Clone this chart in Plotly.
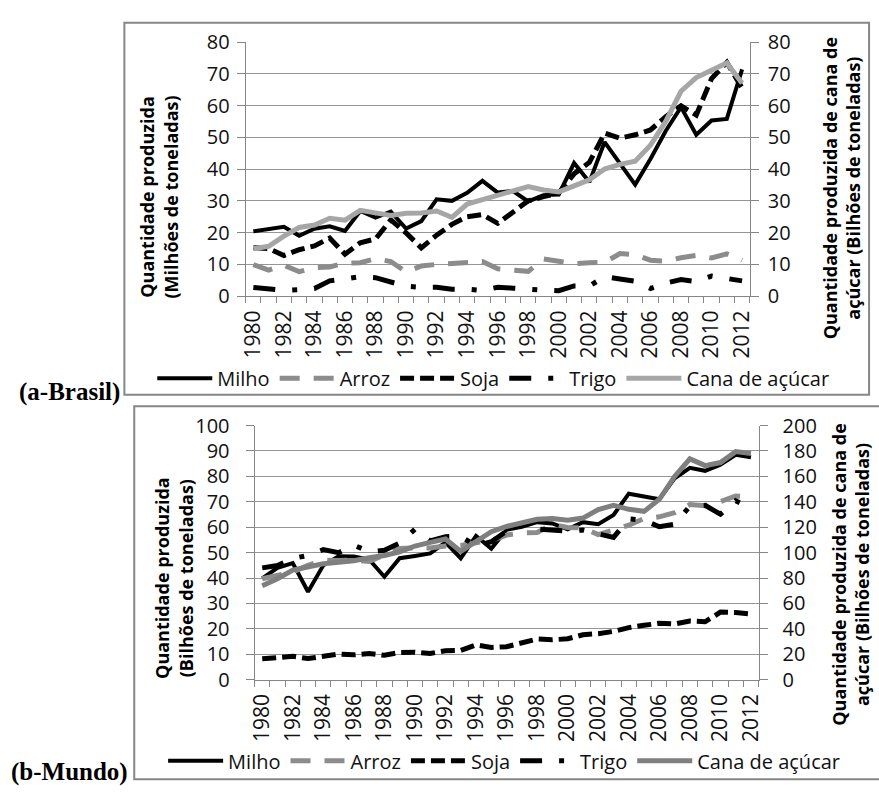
import plotly.graph_objects as go

W, H = 879, 798

anos = [str(a) for a in range(1980, 2013)]
rotulos_anos = [a if int(a) % 2 == 0 else "" for a in anos]

# (a) Brasil - milhões de toneladas (cana: eixo secundário)
milho_br = [20.4, 21.1, 21.8, 19.0, 21.2, 22.0, 20.5, 26.8, 24.7, 26.6, 21.3, 23.6, 30.5, 30.0, 32.5, 36.3, 32.6,
            33.1, 29.8, 31.8, 32.0, 41.9, 35.9, 48.5, 42.0, 35.1, 43.2, 52.0, 59.5, 50.8, 55.3, 55.8, 71.4]
arroz_br = [9.9, 8.2, 9.7, 7.7, 9.0, 9.2, 10.4, 10.5, 11.8, 10.9, 7.6, 9.5, 10.0, 10.2, 10.4, 10.9, 8.6,
            8.3, 7.8, 11.7, 11.1, 10.2, 10.5, 10.6, 13.4, 13.0, 11.3, 11.0, 12.1, 12.8, 12.0, 13.3, 11.3]
soja_br = [15.2, 15.0, 12.8, 14.6, 15.8, 18.3, 13.2, 16.8, 18.0, 24.0, 19.9, 15.2, 19.2, 22.6, 25.0, 25.7, 22.9,
           26.4, 30.0, 31.3, 32.5, 38.5, 42.1, 51.3, 49.7, 50.8, 52.3, 56.5, 59.9, 57.0, 68.5, 73.6, 65.5]
trigo_br = [2.7, 2.1, 1.8, 2.0, 2.4, 4.8, 5.6, 6.1, 5.8, 4.6, 3.1, 2.8, 2.8, 2.2, 2.2, 1.8, 2.8,
            2.5, 2.1, 1.9, 1.7, 3.2, 3.2, 6.1, 5.4, 4.7, 2.4, 4.1, 5.2, 4.6, 6.3, 5.4, 4.8]
cana_br = [14.9, 15.7, 18.9, 21.6, 22.4, 24.5, 23.9, 27.0, 26.2, 25.4, 26.1, 26.2, 26.8, 24.8, 29.0, 30.3, 31.6,
           33.0, 34.5, 33.4, 32.8, 34.7, 36.6, 40.0, 41.5, 42.5, 47.5, 55.0, 64.5, 68.8, 71.2, 73.4, 67.0]

# (b) Mundo - bilhões de toneladas (cana: eixo secundário)
milho_mu = [39.9, 44.0, 45.9, 34.6, 45.0, 48.6, 48.5, 47.3, 40.5, 47.8, 48.7, 49.7, 54.0, 47.8, 56.6, 51.6, 59.0,
            60.2, 62.0, 61.5, 59.2, 62.0, 61.2, 64.8, 73.2, 72.0, 71.0, 79.2, 83.4, 82.2, 84.6, 88.5, 87.5]
arroz_mu = [39.7, 41.0, 42.4, 45.0, 47.0, 46.9, 47.1, 46.5, 48.8, 51.6, 51.9, 51.8, 52.6, 52.8, 53.9, 54.8, 56.9,
            57.8, 57.9, 61.1, 59.9, 59.8, 57.1, 58.7, 60.8, 63.4, 64.1, 65.7, 68.9, 68.5, 70.1, 72.3, 71.9]
soja_mu = [8.2, 8.8, 9.2, 8.3, 9.3, 10.1, 9.8, 10.3, 9.6, 10.7, 10.8, 10.3, 11.4, 11.5, 13.7, 12.7, 13.0,
           14.4, 16.0, 15.7, 16.1, 17.7, 18.1, 19.0, 20.5, 21.4, 22.2, 21.9, 23.1, 22.8, 26.6, 26.4, 25.8]
trigo_mu = [44.0, 44.9, 47.7, 48.9, 51.2, 50.0, 52.9, 50.4, 50.9, 53.8, 59.2, 54.6, 56.3, 56.4, 52.7, 54.3, 58.5,
            61.3, 59.3, 58.7, 58.5, 58.9, 57.4, 56.0, 63.3, 62.7, 60.2, 61.2, 68.3, 68.6, 65.1, 70.4, 67.5]
cana_mu = [74.0, 79.5, 86.3, 88.9, 91.3, 92.5, 93.6, 96.0, 97.7, 100.7, 105.2, 108.1, 110.7, 101.0, 108.9, 116.5, 120.6,
           123.7, 126.3, 126.9, 125.6, 127.2, 133.9, 137.3, 134.1, 132.5, 142.0, 160.0, 173.8, 168.5, 170.9, 179.5, 178.0]

nomes = ["Milho", "Arroz", "Soja", "Trigo", "Cana de açúcar"]

FONT = "Open Sans"
PRETO = "#000000"
CINZA = "#8c8c8c"
CINZA_CLARO = "#a6a6a6"
CINZA_CANA_MU = "#7f7f7f"
GRADE = "#969696"
EIXO = "#868686"

estilos = {
    "Milho": dict(color=PRETO, width=4, dash="solid"),
    "Arroz": dict(color=CINZA, width=5, dash="20px,14px"),
    "Soja": dict(color=PRETO, width=5, dash="14px,6px"),
    "Trigo": dict(color=PRETO, width=5, dash="22px,17px,5px,17px"),
}


def px_x(v):
    return v / W


def px_y(v):
    return 1 - v / H


fig = go.Figure()

series_br = [milho_br, arroz_br, soja_br, trigo_br]
series_mu = [milho_mu, arroz_mu, soja_mu, trigo_mu]

for nome, vals in zip(nomes[:4], series_br):
    fig.add_trace(go.Scatter(x=anos, y=vals, name=nome, mode="lines", line=estilos[nome],
                             xaxis="x", yaxis="y", legend="legend"))
fig.add_trace(go.Scatter(x=anos, y=cana_br, name=nomes[4], mode="lines",
                         line=dict(color=CINZA_CLARO, width=5), xaxis="x", yaxis="y2", legend="legend"))

for nome, vals in zip(nomes[:4], series_mu):
    fig.add_trace(go.Scatter(x=anos, y=vals, name=nome, mode="lines", line=estilos[nome],
                             xaxis="x2", yaxis="y3", legend="legend2"))
fig.add_trace(go.Scatter(x=anos, y=cana_mu, name=nomes[4], mode="lines",
                         line=dict(color=CINZA_CANA_MU, width=5), xaxis="x2", yaxis="y4", legend="legend2"))

tick_font = dict(family=FONT, size=20, color="#111111")
xtick_font = dict(family=FONT, size=21, color="#111111")


def eixo_x(dom, anchor):
    return dict(domain=dom, anchor=anchor, type="category", range=[-0.5, 32.5],
                tickmode="array", tickvals=anos, ticktext=rotulos_anos, tickson="boundaries",
                ticks="outside", ticklen=6, tickcolor=EIXO, tickangle=-90,
                showline=True, linecolor=EIXO, linewidth=1, showgrid=False,
                tickfont=xtick_font, fixedrange=True, ticklabelstandoff=5)


def eixo_y(dom, anchor, rng, dtick, standoff):
    return dict(domain=dom, anchor=anchor, range=rng, dtick=dtick, showgrid=True, gridcolor=GRADE,
                gridwidth=1, zeroline=False, ticks="outside", ticklen=8, tickcolor=EIXO,
                showline=True, linecolor=EIXO, linewidth=1, tickfont=tick_font,
                ticklabelstandoff=standoff)


def eixo_y_dir(over, anchor, rng, dtick, standoff):
    return dict(overlaying=over, anchor=anchor, side="right", range=rng, dtick=dtick, showgrid=False,
                zeroline=False, ticks="outside", ticklen=8, tickcolor=EIXO,
                showline=True, linecolor=EIXO, linewidth=1, tickfont=tick_font,
                ticklabelstandoff=standoff)


dom_x_br = [px_x(242), px_x(753)]
dom_y_br = [px_y(292), px_y(29)]
dom_x_mu = [px_x(251), px_x(762)]
dom_y_mu = [px_y(689), px_y(426)]

leg_font = dict(family=FONT, size=20, color="#111111")

fig.update_layout(
    width=W, height=H, margin=dict(l=0, r=0, t=0, b=0),
    paper_bgcolor="white", plot_bgcolor="white",
    xaxis=eixo_x(dom_x_br, "y"),
    yaxis=eixo_y(dom_y_br, "x", [0, 80], 10, 3),
    yaxis2=eixo_y_dir("y", "x", [0, 80], 10, 5),
    xaxis2=eixo_x(dom_x_mu, "y3"),
    yaxis3=eixo_y(dom_y_mu, "x2", [0, 100], 10, 12),
    yaxis4=eixo_y_dir("y3", "x2", [0, 200], 20, 11),
    legend=dict(orientation="h", x=px_x(493), y=px_y(377), xanchor="center", yanchor="middle",
                font=leg_font, bgcolor="rgba(0,0,0,0)", itemwidth=55, tracegroupgap=0),
    legend2=dict(orientation="h", x=px_x(504), y=px_y(773), xanchor="center", yanchor="middle",
                 font=leg_font, bgcolor="rgba(0,0,0,0)", itemwidth=55, tracegroupgap=0),
    showlegend=True,
)

titulo_font = dict(family=FONT, size=18, color="#000000", weight="bold")

anotacoes = [
    ("Quantidade produzida<br>(Milhões de toneladas)", 154, 189),
    ("Quantidade produzida de cana de<br>açúcar (Bilhões de toneladas)", 846, 180),
    ("Quantidade produzida<br>(Bilhões de toneladas)", 169, 584),
    ("Quantidade produzida de cana de<br>açúcar (Bilhões de toneladas)", 855, 580),
]
for texto, ax_, ay_ in anotacoes:
    fig.add_annotation(text=texto, x=px_x(ax_), y=px_y(ay_), xref="paper", yref="paper",
                       showarrow=False, textangle=-90, font=titulo_font, align="center",
                       xanchor="center", yanchor="middle")

painel_font = dict(family="Liberation Serif", size=25, color="#000000", weight="bold")
fig.add_annotation(text="(a-Brasil)", x=px_x(10), y=px_y(391), xref="paper", yref="paper",
                   showarrow=False, font=painel_font, xanchor="left", yanchor="middle")
fig.add_annotation(text="(b-Mundo)", x=px_x(2), y=px_y(785), xref="paper", yref="paper",
                   showarrow=False, font=painel_font, xanchor="left", yanchor="middle")

# Molduras dos painéis
fig.add_shape(type="rect", xref="paper", yref="paper", x0=px_x(119), x1=px_x(874), y0=px_y(394), y1=px_y(9),
              line=dict(color=EIXO, width=2))
fig.add_shape(type="rect", xref="paper", yref="paper", x0=px_x(129), x1=px_x(890), y0=px_y(792), y1=px_y(406),
              line=dict(color=EIXO, width=2))

fig.write_html("out.html")
